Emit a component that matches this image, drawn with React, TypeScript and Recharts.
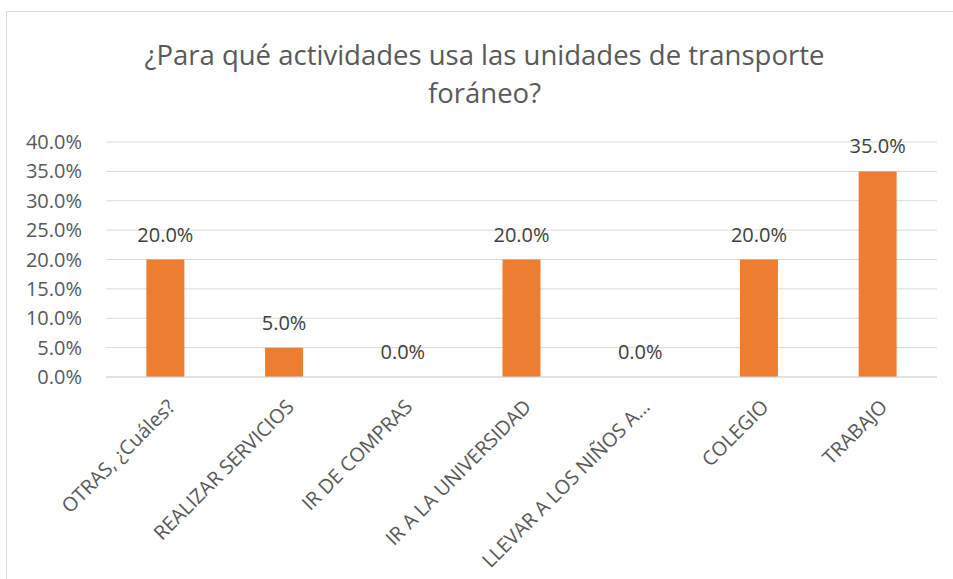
import { BarChart, Bar, XAxis, YAxis, CartesianGrid, LabelList } from 'recharts'

const categories = [
  'OTRAS, ¿Cuáles?',
  'REALIZAR SERVICIOS',
  'IR DE COMPRAS',
  'IR A LA UNIVERSIDAD',
  'LLEVAR A LOS NIÑOS A...',
  'COLEGIO',
  'TRABAJO',
]
const shares = [0.2, 0.05, 0, 0.2, 0, 0.2, 0.35]
const yTicks = [0, 0.05, 0.1, 0.15, 0.2, 0.25, 0.3, 0.35, 0.4]

const FONT = '"Open Sans", "Noto Sans", sans-serif'
const TEXT = '#595959'
const pct = (v: number) => `${(v * 100).toFixed(1)}%`

const data = categories.map((name, i) => ({ name, value: shares[i], label: pct(shares[i]) }))

function CategoryTick(props: any) {
  const { x, y, payload } = props
  return (
    <g transform={`translate(${x + 11},${y + 31})`}>
      <text
        transform="rotate(-45)"
        textAnchor="end"
        fill={TEXT}
        fontSize={19.8}
        fontFamily={FONT}
      >
        {payload.value}
      </text>
    </g>
  )
}

export default function App() {
  return (
    <div style={{ position: 'absolute', left: 0, top: 0, width: 953, height: 579, background: '#fff', overflow: 'hidden' }}>
      <div
        style={{
          position: 'absolute',
          left: 6,
          top: 11,
          width: 960,
          height: 600,
          borderLeft: '1px solid #d9d9d9',
          borderTop: '1px solid #d9d9d9',
        }}
      />
      <div
        style={{
          position: 'absolute',
          left: 8,
          top: 36,
          width: 953,
          textAlign: 'center',
          fontFamily: FONT,
          fontSize: 27.5,
          lineHeight: '38px',
          color: TEXT,
        }}
      >
        ¿Para qué actividades usa las unidades de transporte
        <br />
        foráneo?
      </div>
      <BarChart
        width={953}
        height={579}
        data={data}
        margin={{ top: 142, right: 16, left: 6, bottom: 52 }}
        barCategoryGap="34%"
      >
        <CartesianGrid vertical={false} stroke="#d9d9d9" strokeWidth={1} />
        <XAxis
          dataKey="name"
          interval={0}
          tickLine={false}
          tickSize={0}
          tickMargin={0}
          axisLine={{ stroke: '#d9d9d9' }}
          height={150}
          tick={<CategoryTick />}
        />
        <YAxis
          width={100}
          domain={[0, 0.4]}
          ticks={yTicks}
          tickFormatter={pct}
          tickLine={false}
          axisLine={false}
          tickSize={0}
          tickMargin={24}
          tick={{ fill: TEXT, fontSize: 20, fontFamily: FONT }}
        />
        {/* tiny minPointSize so the 0.0% labels still get drawn */}
        <Bar
          dataKey="value"
          fill="#ED7D31"
          minPointSize={(v: any) => (Number(v) === 0 ? 0.01 : 0)}
          isAnimationActive={false}
        >
          <LabelList
            dataKey="label"
            position="top"
            offset={18}
            fill="#404040"
            fontSize={20}
            fontFamily={FONT}
          />
        </Bar>
      </BarChart>
    </div>
  )
}
